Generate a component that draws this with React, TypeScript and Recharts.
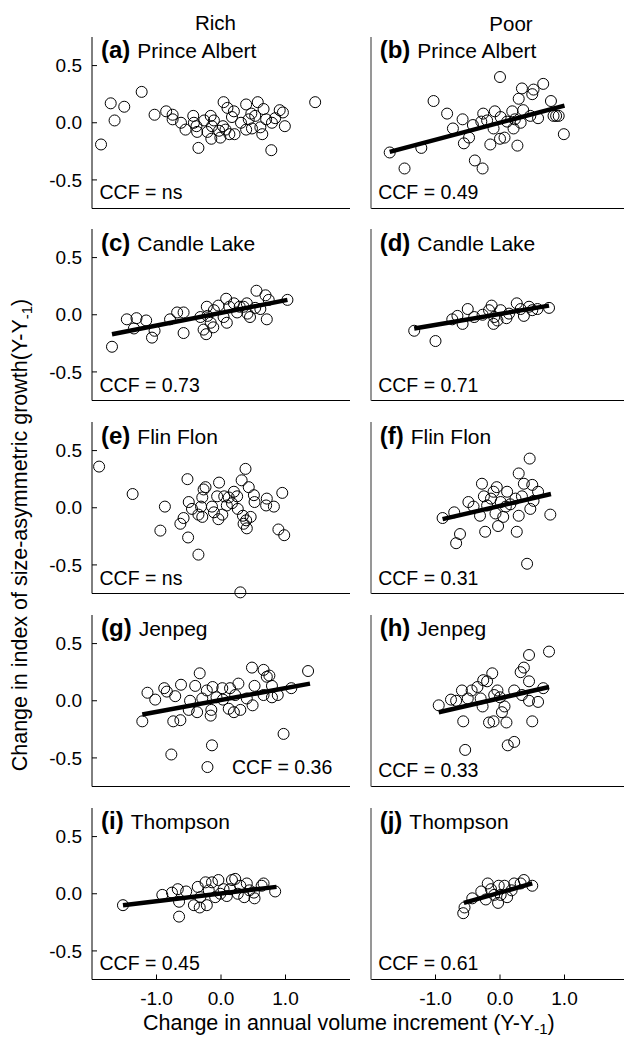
import React from 'react';
import { ScatterChart, Scatter, XAxis, YAxis } from 'recharts';

const FONT = '"Liberation Sans", Arial, Helvetica, sans-serif';

// [x, y] pairs
const richPrinceAlbert = [
  [-1.86, -0.19], [-1.71, 0.17], [-1.65, 0.02], [-1.5, 0.14], [-1.23, 0.27], [-1.03, 0.07],
  [-0.85, 0.1], [-0.75, 0.07], [-0.75, 0.03], [-0.62, 0.0], [-0.55, -0.06], [-0.43, 0.06],
  [-0.42, 0.0], [-0.38, -0.03], [-0.37, -0.08], [-0.35, -0.22], [-0.26, 0.02], [-0.21, -0.08],
  [-0.16, 0.06], [-0.14, -0.03], [-0.15, -0.14], [-0.11, 0.02], [-0.03, -0.07], [-0.01, -0.13],
  [0.04, 0.18], [0.03, -0.03], [0.07, -0.06], [0.1, 0.13], [0.13, -0.1], [0.17, 0.05],
  [0.2, 0.1], [0.21, -0.1], [0.31, 0.0], [0.39, 0.16], [0.39, -0.06], [0.43, 0.03],
  [0.47, 0.08], [0.48, -0.05], [0.53, 0.06], [0.57, 0.18], [0.61, -0.04], [0.64, -0.1],
  [0.66, 0.12], [0.7, 0.03], [0.78, -0.24], [0.79, 0.0], [0.84, 0.04], [0.91, 0.11],
  [0.96, 0.09], [0.99, -0.03], [1.46, 0.18],
];
const poorPrinceAlbert = [
  [-1.71, -0.26], [-1.48, -0.4], [-1.22, -0.22], [-1.03, 0.19], [-0.82, 0.08], [-0.73, -0.05],
  [-0.58, 0.03], [-0.56, -0.18], [-0.48, -0.13], [-0.42, -0.02], [-0.39, -0.33], [-0.27, -0.4],
  [-0.26, 0.08], [-0.29, 0.01], [-0.2, 0.02], [-0.15, -0.19], [-0.1, -0.05], [-0.08, 0.1],
  [0.0, 0.4], [0.0, -0.14], [0.01, 0.05], [0.07, -0.13], [0.11, 0.01], [0.19, 0.1],
  [0.21, -0.05], [0.23, 0.03], [0.27, -0.2], [0.29, 0.21], [0.32, 0.0], [0.34, 0.3],
  [0.36, 0.11], [0.47, 0.06], [0.5, 0.25], [0.52, 0.29], [0.59, 0.04], [0.67, 0.34],
  [0.79, 0.19], [0.83, 0.06], [0.87, 0.06], [0.91, 0.06], [0.99, -0.1],
];
const richCandleLake = [
  [-1.69, -0.28], [-1.46, -0.04], [-1.35, -0.12], [-1.31, -0.03], [-1.16, -0.05], [-1.07, -0.2],
  [-1.03, -0.14], [-0.79, -0.04], [-0.68, 0.02], [-0.58, 0.02], [-0.58, -0.16], [-0.32, -0.02],
  [-0.27, -0.13], [-0.23, -0.17], [-0.22, 0.07], [-0.21, -0.01], [-0.16, -0.07], [-0.12, -0.11],
  [-0.11, 0.04], [-0.04, 0.08], [0.04, -0.02], [0.08, 0.14], [0.09, -0.07], [0.13, 0.07],
  [0.2, 0.1], [0.25, 0.02], [0.29, 0.07], [0.35, 0.07], [0.4, 0.1], [0.41, 0.01],
  [0.45, -0.02], [0.53, 0.06], [0.55, 0.21], [0.61, 0.05], [0.69, 0.17], [0.71, -0.04],
  [0.74, 0.13], [1.03, 0.13],
];
const poorCandleLake = [
  [-1.33, -0.14], [-1.0, -0.23], [-0.74, -0.04], [-0.66, -0.01], [-0.58, -0.08], [-0.5, 0.05],
  [-0.4, -0.02], [-0.27, 0.0], [-0.17, 0.04], [-0.13, 0.08], [-0.1, -0.08], [-0.09, -0.02],
  [-0.04, -0.05], [0.01, 0.04], [0.1, -0.03], [0.14, 0.01], [0.26, 0.1], [0.32, 0.05],
  [0.37, -0.01], [0.45, 0.07], [0.5, 0.04], [0.58, 0.05], [0.76, 0.06],
];
const richFlinFlon = [
  [-1.89, 0.36], [-1.37, 0.12], [-0.94, -0.2], [-0.87, 0.01], [-0.63, -0.14], [-0.58, -0.09],
  [-0.51, -0.26], [-0.52, 0.25], [-0.5, 0.05], [-0.45, -0.01], [-0.35, -0.41], [-0.35, -0.06],
  [-0.31, 0.01], [-0.29, -0.08], [-0.29, 0.09], [-0.27, 0.16], [-0.24, 0.18], [-0.14, 0.01],
  [-0.11, -0.04], [-0.06, 0.1], [-0.04, -0.1], [-0.03, 0.22], [0.02, -0.06], [0.05, 0.1],
  [0.09, 0.02], [0.12, 0.09], [0.17, 0.04], [0.2, 0.14], [0.25, 0.1], [0.26, -0.01],
  [0.3, -0.74], [0.32, 0.24], [0.34, -0.07], [0.35, -0.14], [0.38, 0.34], [0.39, -0.11],
  [0.4, -0.18], [0.43, 0.18], [0.46, -0.08], [0.51, 0.11], [0.52, 0.05], [0.71, 0.08],
  [0.7, 0.02], [0.82, 0.01], [0.89, -0.19], [0.95, 0.13], [0.98, -0.24],
];
const poorFlinFlon = [
  [-0.89, -0.09], [-0.71, -0.04], [-0.62, -0.23], [-0.68, -0.31], [-0.49, 0.05], [-0.41, 0.01],
  [-0.31, -0.07], [-0.28, 0.21], [-0.25, 0.1], [-0.23, -0.21], [-0.2, 0.02], [-0.14, 0.08],
  [-0.1, 0.14], [-0.07, -0.05], [-0.05, 0.18], [-0.03, -0.16], [0.01, 0.05], [0.05, -0.08],
  [0.09, 0.01], [0.11, 0.14], [0.16, 0.03], [0.24, 0.08], [0.26, -0.21], [0.29, -0.07],
  [0.29, 0.3], [0.34, 0.1], [0.37, 0.21], [0.42, -0.49], [0.46, 0.43], [0.47, -0.01],
  [0.5, 0.2], [0.52, 0.06], [0.59, 0.14], [0.78, -0.06],
];
const richJenpeg = [
  [-1.22, -0.18], [-1.14, 0.07], [-1.02, 0.01], [-0.88, 0.11], [-0.84, 0.08], [-0.77, -0.47],
  [-0.74, -0.18], [-0.71, 0.04], [-0.63, -0.17], [-0.62, 0.14], [-0.5, -0.08], [-0.48, 0.0],
  [-0.4, 0.13], [-0.37, -0.1], [-0.33, 0.24], [-0.29, 0.02], [-0.21, -0.58], [-0.22, 0.09],
  [-0.16, -0.13], [-0.15, -0.08], [-0.14, -0.39], [-0.13, 0.12], [-0.07, 0.03], [0.02, 0.11],
  [0.03, 0.01], [0.12, -0.07], [0.14, 0.11], [0.2, -0.1], [0.22, 0.05], [0.27, 0.15],
  [0.3, -0.08], [0.4, 0.02], [0.49, -0.04], [0.48, 0.29], [0.52, 0.13], [0.66, 0.27],
  [0.66, 0.05], [0.71, 0.21], [0.75, 0.22], [0.79, 0.03], [0.79, 0.13], [0.88, 0.05],
  [0.97, -0.29], [1.09, 0.11], [1.35, 0.26],
];
const poorJenpeg = [
  [-0.95, -0.04], [-0.76, 0.01], [-0.68, 0.0], [-0.59, 0.09], [-0.57, -0.18], [-0.54, -0.43],
  [-0.5, 0.02], [-0.44, 0.09], [-0.35, 0.12], [-0.3, 0.02], [-0.27, -0.05], [-0.26, 0.18],
  [-0.2, 0.17], [-0.17, -0.19], [-0.12, 0.24], [-0.1, -0.18], [-0.09, 0.05], [-0.04, 0.09],
  [0.0, 0.03], [0.03, -0.1], [0.07, -0.05], [0.1, -0.19], [0.12, -0.39], [0.22, -0.36],
  [0.22, 0.09], [0.32, 0.25], [0.34, 0.05], [0.37, 0.29], [0.45, 0.4], [0.45, 0.17],
  [0.45, 0.0], [0.5, -0.18], [0.59, -0.01], [0.67, 0.11], [0.76, 0.43],
];
const richThompson = [
  [-1.52, -0.1], [-0.91, -0.01], [-0.76, 0.01], [-0.67, 0.04], [-0.65, -0.2], [-0.65, -0.07],
  [-0.54, 0.02], [-0.42, -0.1], [-0.36, 0.06], [-0.33, -0.12], [-0.32, -0.03], [-0.24, 0.1],
  [-0.22, -0.1], [-0.19, 0.03], [-0.14, 0.1], [-0.09, -0.03], [-0.04, 0.12], [-0.01, 0.0],
  [0.04, 0.04], [0.09, -0.02], [0.14, 0.04], [0.17, 0.12], [0.22, 0.13], [0.26, 0.0],
  [0.3, 0.07], [0.36, -0.03], [0.4, 0.09], [0.44, 0.03], [0.52, -0.04], [0.51, 0.01],
  [0.63, 0.07], [0.66, 0.09], [0.84, 0.02],
];
const poorThompson = [
  [-0.57, -0.17], [-0.55, -0.12], [-0.43, -0.04], [-0.29, 0.02], [-0.22, -0.05], [-0.19, 0.09],
  [-0.14, 0.04], [-0.09, -0.01], [-0.03, -0.08], [-0.02, 0.07], [0.01, -0.01], [0.07, 0.07],
  [0.11, -0.03], [0.18, 0.03], [0.22, 0.09], [0.32, 0.09], [0.37, 0.12], [0.5, 0.07],
];

// fitted line end points
const fitPoorPrinceAlbert = [[-1.71, -0.255], [1.0, 0.15]];
const fitRichCandleLake = [[-1.69, -0.17], [1.03, 0.13]];
const fitPoorCandleLake = [[-1.33, -0.12], [0.76, 0.08]];
const fitPoorFlinFlon = [[-0.89, -0.1], [0.79, 0.12]];
const fitRichJenpeg = [[-1.22, -0.12], [1.38, 0.15]];
const fitPoorJenpeg = [[-0.95, -0.1], [0.76, 0.12]];
const fitRichThompson = [[-1.52, -0.1], [0.86, 0.06]];
const fitPoorThompson = [[-0.56, -0.08], [0.5, 0.09]];

const xTicks = [-1, 0, 1];
const yTicks = [-0.5, 0, 0.5];
const columns = ['Rich', 'Poor'];

const panels = [
  { tag: '(a)', site: 'Prince Albert', row: 0, col: 0, pts: richPrinceAlbert, fit: null, ccf: 'ns' },
  { tag: '(b)', site: 'Prince Albert', row: 0, col: 1, pts: poorPrinceAlbert, fit: fitPoorPrinceAlbert, ccf: '0.49' },
  { tag: '(c)', site: 'Candle Lake', row: 1, col: 0, pts: richCandleLake, fit: fitRichCandleLake, ccf: '0.73' },
  { tag: '(d)', site: 'Candle Lake', row: 1, col: 1, pts: poorCandleLake, fit: fitPoorCandleLake, ccf: '0.71' },
  { tag: '(e)', site: 'Flin Flon', row: 2, col: 0, pts: richFlinFlon, fit: null, ccf: 'ns' },
  { tag: '(f)', site: 'Flin Flon', row: 2, col: 1, pts: poorFlinFlon, fit: fitPoorFlinFlon, ccf: '0.31' },
  { tag: '(g)', site: 'Jenpeg', row: 3, col: 0, pts: richJenpeg, fit: fitRichJenpeg, ccf: '0.36', ccfRight: true },
  { tag: '(h)', site: 'Jenpeg', row: 3, col: 1, pts: poorJenpeg, fit: fitPoorJenpeg, ccf: '0.33' },
  { tag: '(i)', site: 'Thompson', row: 4, col: 0, pts: richThompson, fit: fitRichThompson, ccf: '0.45' },
  { tag: '(j)', site: 'Thompson', row: 4, col: 1, pts: poorThompson, fit: fitPoorThompson, ccf: '0.61' },
];

const ROW_TOP = [36.6, 229.3, 422.1, 614.9, 807.7];
const COL_LEFT = [92, 370.7];
const PLOT_H = 171.5;

const toXY = (arr) => arr.map(([x, y]) => ({ x, y }));

const Ring = (props) => (
  <circle cx={props.cx} cy={props.cy} r={5.5} fill="none" stroke="#000" strokeWidth={1} />
);

const Panel = ({ p }) => {
  const isLeft = p.col === 0;
  const isBottom = p.row === 4;
  const yColor = isLeft ? '#000' : '#7d7d7d';
  return (
    <div style={{ position: 'absolute', left: COL_LEFT[p.col] - 92, top: ROW_TOP[p.row] - 10 }}>
      <ScatterChart width={360} height={221.5} margin={{ top: 10, right: 10, bottom: 0, left: 32 }}>
        <XAxis
          type="number"
          dataKey="x"
          domain={[-2, 2]}
          ticks={xTicks}
          height={40}
          tickSize={-5}
          tickMargin={17}
          tickFormatter={(v) => v.toFixed(1)}
          tick={isBottom ? { fill: '#000', fontSize: 19, fontFamily: FONT } : false}
          axisLine={{ stroke: '#000', strokeWidth: 1.2 }}
          tickLine={{ stroke: '#000' }}
        />
        <YAxis
          type="number"
          dataKey="y"
          domain={[-0.75, 0.75]}
          ticks={yTicks}
          width={60}
          tickSize={-5}
          tickMargin={15}
          tickFormatter={(v) => v.toFixed(1)}
          tick={isLeft ? { fill: '#000', fontSize: 19, fontFamily: FONT } : false}
          axisLine={{ stroke: yColor, strokeWidth: isLeft ? 1 : 1.6 }}
          tickLine={{ stroke: yColor }}
        />
        <Scatter data={toXY(p.pts)} shape={Ring} isAnimationActive={false} />
        {p.fit && (
          <Scatter
            data={toXY(p.fit)}
            line={{ stroke: '#000', strokeWidth: 4.5 }}
            shape={() => <g />}
            isAnimationActive={false}
          />
        )}
      </ScatterChart>
    </div>
  );
};

const Labels = () => (
  <svg width={624} height={1037} style={{ position: 'absolute', left: 0, top: 0, pointerEvents: 'none' }} fontFamily={FONT}>
    <text x={215.5} y={30} fontSize={20.5} textAnchor="middle">{columns[0]}</text>
    <text x={511} y={31} fontSize={20.5} textAnchor="middle">{columns[1]}</text>
    {panels.map((p) => {
      const L = COL_LEFT[p.col];
      const T = ROW_TOP[p.row];
      return (
        <g key={p.tag}>
          <text x={L + 9} y={T + 21.5}>
            <tspan fontWeight="bold" fontSize={24}>{p.tag}</tspan>
            <tspan fontSize={21} dx={7}>{p.site}</tspan>
          </text>
          {p.ccfRight ? (
            <text x={L + 140} y={T + PLOT_H - 12} fontSize={19.5}>{`CCF = ${p.ccf}`}</text>
          ) : (
            <text x={L + 7.5} y={T + PLOT_H - 9} fontSize={19.5}>{`CCF = ${p.ccf}`}</text>
          )}
        </g>
      );
    })}
    <text transform="translate(27,535) rotate(-90)" fontSize={21.5} textAnchor="middle">
      Change in index of size-asymmetric growth(Y-Y
      <tspan fontSize={15} dy={4.5}>-1</tspan>
      <tspan dy={-4.5}>)</tspan>
    </text>
    <text x={143} y={1029.5} fontSize={21.5}>
      Change in annual volume increment (Y-Y
      <tspan fontSize={15} dy={4}>-1</tspan>
      <tspan dy={-4}>)</tspan>
    </text>
  </svg>
);

const App = () => (
  <div style={{ position: 'absolute', left: 0, top: 0, width: 624, height: 1037, overflow: 'hidden', background: '#fff' }}>
    {panels.map((p) => (
      <Panel key={p.tag} p={p} />
    ))}
    <Labels />
  </div>
);

export default App;
